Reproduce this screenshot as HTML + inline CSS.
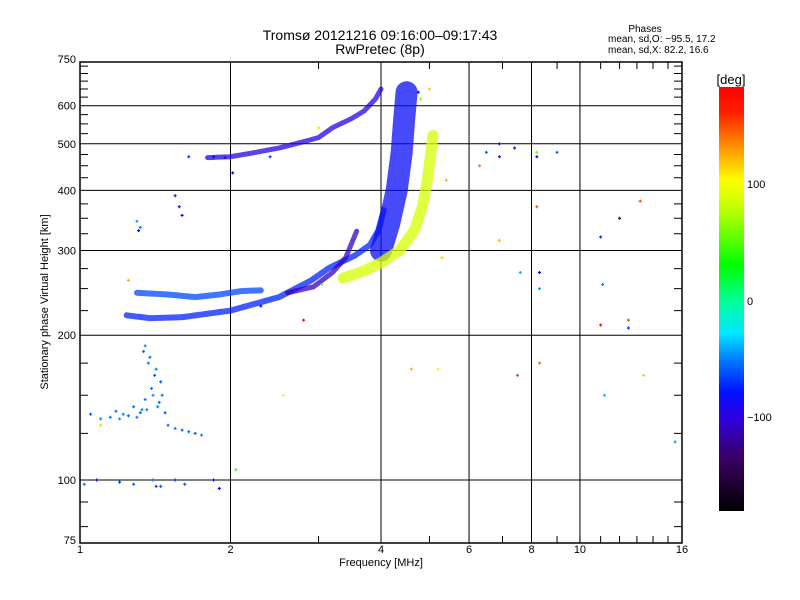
<!DOCTYPE html>
<html><head><meta charset="utf-8"><style>
body{margin:0;background:#fff;}
svg{display:block;font-family:"Liberation Sans",sans-serif;}
</style></head><body>
<svg id="chart" width="800" height="600" viewBox="0 0 800 600" xmlns="http://www.w3.org/2000/svg">
<rect width="800" height="600" fill="#fff"/>
<g id="grid"></g>
<g id="marks"></g>
<g id="axes"></g>
<text x="380" y="40" font-size="14" text-anchor="middle">Tromsø 20121216 09:16:00–09:17:43</text>
<text x="380" y="54" font-size="14" text-anchor="middle">RwPretec (8p)</text>
<text x="645" y="32" font-size="10" text-anchor="middle">Phases</text>
<text x="608" y="42" font-size="10">mean, sd,O:  −95.5, 17.2</text>
<text x="608" y="53" font-size="10">mean, sd,X:   82.2, 16.6</text>
<text x="381" y="566" font-size="11" text-anchor="middle">Frequency [MHz]</text>
<text x="48" y="302" font-size="11" text-anchor="middle" transform="rotate(-90 48 302)">Stationary phase Virtual Height [km]</text>
<defs><linearGradient id="cb" x1="0" y1="1" x2="0" y2="0">
<stop offset="0" stop-color="#000"/><stop offset="0.12" stop-color="#3a0060"/><stop offset="0.22" stop-color="#3000e0"/><stop offset="0.28" stop-color="#0010ff"/><stop offset="0.36" stop-color="#0080ff"/><stop offset="0.42" stop-color="#00e8ff"/><stop offset="0.5" stop-color="#00ff90"/><stop offset="0.58" stop-color="#00ff00"/><stop offset="0.7" stop-color="#b0ff00"/><stop offset="0.78" stop-color="#ffff00"/><stop offset="0.86" stop-color="#ff9000"/><stop offset="0.94" stop-color="#ff2000"/><stop offset="1" stop-color="#ff0000"/>
</linearGradient></defs>
<rect x="719" y="87" width="25" height="424" fill="url(#cb)"/>
<text x="731" y="84" font-size="13" text-anchor="middle">[deg]</text>
<text x="747" y="188" font-size="11">100</text>
<text x="747" y="305" font-size="11">0</text>
<text x="747" y="421" font-size="11">−100</text>
</svg>
<script>
// ---- data ----
const xTicks = [1,2,4,6,8,10,16];
const yTicks = [75,100,200,300,400,500,600,750];
const xGrid = [2,4,6,8,10];
const yGrid = [100,200,300,400,500,600];
const yMinor = [80,90,125,150,175,225,250,275,325,350,375,425,450,475,525,550,575,625,650,675,700,725];
const xMinor = [3,5,7,9,11,12,13,14,15];
// traces (bands)
const tHighF = [1.8,2.0,2.2,2.5,2.8,3.0,3.2,3.5,3.7,3.9,4.0];
const tHighH = [468,470,478,490,505,515,540,565,585,620,650];
const tLowF = [1.24,1.38,1.6,2.0,2.5,2.9,3.15,3.55,3.8,3.95,4.05];
const tLowH = [220,217,218,225,240,260,276,293,308,330,364];
const tLow2F = [1.3,1.5,1.7,1.9,2.1,2.3];
const tLow2H = [245,243,240,243,247,248];
const tVertF = [4.0,4.15,4.3,4.4,4.45,4.5];
const tVertH = [300,340,400,480,560,640];
const tBranchF = [2.6,2.93,3.2,3.4,3.58];
const tBranchH = [245,252,270,290,330];
const tXF = [3.36,3.7,4.0,4.36,4.67,4.85,4.95,5.02,5.08];
const tXH = [263,272,283,300,331,373,420,470,520];
const traceWidths = [5,6,6,22,5,11];
const tracePhases = [-108,-95,-85,-102,-118,82];
// scattered echoes
const sF = [1.35,1.38,1.42,1.45,1.4,1.36,1.44,1.48,1.33,1.3,1.25,1.2,1.15,1.1,1.05,1.5,1.55,1.6,1.65,1.7,1.75,1.4,1.45,1.02,1.08,1.2,1.28,1.42,1.55,1.62,1.85,1.9,1.3,1.32,1.31,1.55,1.58,1.6,1.85,1.95,2.02,2.3,2.8,3.05,3.0,4.6,4.75,5.0,5.4,6.3,6.5,6.9,6.9,7.4,7.6,8.2,8.2,8.3,8.3,8.2,8.3,9.0,11,11,11.1,11.2,12,12.5,12.5,13.2,13.4,15.5,16,5.3,6.9,7.5,5.2,1.1,1.25,1.65,2.05,2.55,1.85,2.4,4.8,1.34,1.37,1.41,1.39,1.43,1.46,1.35,1.32,1.28,1.22,1.18];
const sH = [190,180,170,160,150,140,145,138,140,135,136,134,135,134,137,130,128,127,126,125,124,100,97,98,100,99,98,97,100,98,100,96,345,335,330,390,370,355,470,468,435,230,215,255,540,170,640,650,420,450,480,470,500,490,270,480,470,270,250,370,175,480,320,210,255,150,350,215,207,380,165,120,90,290,315,165,170,130,260,470,105,150,470,470,620,185,175,165,155,142,150,147,138,142,137,139];
const sP = [-70,-75,-70,-80,-65,-70,-75,-80,-70,-70,-75,-60,-70,-65,-80,-75,-70,-80,-75,-80,-70,-80,-80,-70,-100,-90,-80,-85,-90,-80,-100,-100,-60,-70,-100,-110,-110,-100,-90,-110,-100,-100,170,60,100,120,-100,110,120,140,-80,-110,-100,-110,-50,50,-100,-100,-60,150,140,-80,-90,170,-70,-50,-140,150,-90,150,110,-60,150,110,120,150,100,110,120,-90,40,100,-100,-90,60,-75,-70,-80,-72,-68,-75,-70,-78,-72,-70,-75];

// ---- axes functions ----
const X0=80, X1=682;
function xs(f){return X0+(X1-X0)/4*Math.log2(f);}
function ys(h){return 480-481*Math.log10(h/100);}
function phaseColor(p){
  const st=[[-180,0,0,0],[-140,58,0,96],[-110,48,0,224],[-100,0,16,255],[-70,0,128,255],[-33,0,232,255],[0,0,255,144],[28,0,255,0],[70,176,255,0],[95,255,255,0],[130,255,144,0],[160,255,32,0],[180,255,0,0]];
  for(let i=1;i<st.length;i++){if(p<=st[i][0]){const a=st[i-1],b=st[i],t=(p-a[0])/(b[0]-a[0]);
    return 'rgb('+[1,2,3].map(k=>Math.round(a[k]+(b[k]-a[k])*t)).join(',')+')';}}
  return 'rgb(255,0,0)';
}
const NS='http://www.w3.org/2000/svg';
function el(tag,attrs,parent){const e=document.createElementNS(NS,tag);for(const k in attrs)e.setAttribute(k,attrs[k]);parent.appendChild(e);return e;}
const grid=document.getElementById('grid'),marks=document.getElementById('marks'),axes=document.getElementById('axes');
xGrid.forEach(v=>{const l=el('line',{x1:xs(v),x2:xs(v),y1:62,y2:543,stroke:'#000','stroke-width':1},grid);

});
yGrid.forEach(v=>{const l=el('line',{x1:X0,x2:X1,y1:ys(v),y2:ys(v),stroke:'#000','stroke-width':1},grid);

});
const traces=[[tHighF,tHighH],[tLowF,tLowH],[tLow2F,tLow2H],[tVertF,tVertH],[tBranchF,tBranchH],[tXF,tXH]];
const traceNames=['f2-upper-trace','f-lower-o-trace','f-lower-branch-trace','o-vertical-trace','o-secondary-trace','x-mode-trace'];
traces.forEach((t,i)=>{
  const pts=t[0].map((f,j)=>xs(f).toFixed(1)+','+ys(t[1][j]).toFixed(1)).join(' ');
  const pl=el('polyline',{points:pts,fill:'none',stroke:phaseColor(tracePhases[i]),'stroke-width':traceWidths[i],'stroke-linejoin':'round','stroke-linecap':'round',opacity:0.75,'stroke-dasharray':'3 1'},marks);
  
  
});
sF.forEach((f,i)=>{
  const x=xs(f),y=ys(sH[i]),c=phaseColor(sP[i]);
  const p=el('path',{d:`M${x-1.5},${y}h3M${x},${y-1.5}v3`,stroke:c,'stroke-width':1.2},marks);
  
  
});
const fr=el('rect',{x:X0,y:62,width:X1-X0,height:481,fill:'none',stroke:'#000','stroke-width':1.5},axes);


xTicks.forEach(v=>{const t=el('text',{x:xs(v),y:553,'font-size':11,'text-anchor':'middle'},axes);t.textContent=v;

});
xMinor.concat(xTicks).forEach(v=>{const p=el('path',{d:`M${xs(v)},543v-7M${xs(v)},62v7`,stroke:'#000'},axes);

});
yTicks.forEach(v=>{const t=el('text',{x:76,y:ys(v)+4,'font-size':11,'text-anchor':'end'},axes);t.textContent=v;

});
yMinor.forEach(v=>{const p=el('path',{d:`M${X0},${ys(v)}h8M${X1},${ys(v)}h-8`,stroke:'#000'},axes);

});
</script>
</body></html>
